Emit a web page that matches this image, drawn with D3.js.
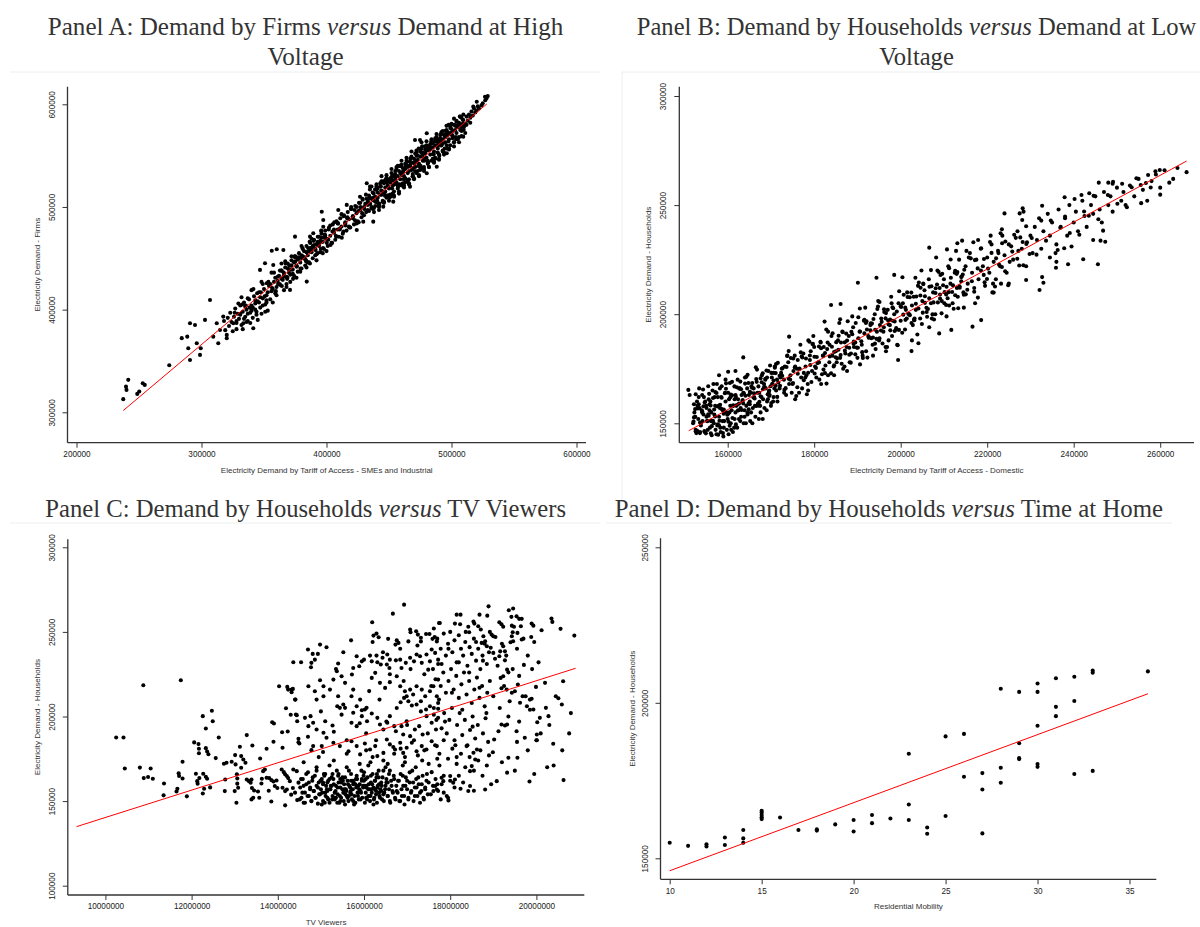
<!DOCTYPE html>
<html><head><meta charset="utf-8">
<script src="https://cdn.jsdelivr.net/npm/d3@7"></script>
<style>body{margin:0;background:#fff}svg{display:block}</style>
</head><body>
<svg id="chart" width="1200" height="927"></svg>
<script>
// ---------------- DATA (values in thousands unless stated) ----------------
// Panel A: x = demand at high voltage (thousand), y = demand by firms (thousand)
const ticksAX=[200,300,400,500,600];
const ticksAY=[300,400,500,600];
const fitA=[[237.4,301.7],[528.2,600.3]];
const firmsA=[
[237.4,312.8],[241.4,331.6],[239.6,325],[240,321.8],[248.6,317.9],[250.2,320.2],[253,328.3],[254.6,326.7],[274.2,345.9],[284.2,372.2],[288.6,373.7],[290.8,386.8],[294.8,385.1],[296.2,367.3],[299.4,362.4],[298.8,355.9],[290.8,351],[289.4,362.4],[302.8,390],[306.8,409.4],[309.4,373.7],[313.4,367.3],[312.2,386.8],[314.8,380.2],[320.2,375.4],[317.4,393.2],[346.8,438.7],[350.8,445.2],[357.4,443.5],[352.2,425.7],[356.2,457.4],[360.2,458.8],[365.5,458.1],[374.8,471.1],[386.8,471.1],[389.4,474.4],[396.2,495.4],[397.4,487.3],[397.4,480.8],[409.4,497],[416.2,502],[426.8,510],[432.2,523.1],[434.8,519.8],[470.8,565.2],[474.8,565.2],[480.2,571.8],[506.8,588],[509.4,584.7],[517.4,597.7],[520.2,602.5],[526.8,607.4],[341.4,381.9],[333.4,386.8],[325.4,386.8],[320.2,372.2],[370.8,419.2],[384.2,427.3],[424.2,477.6],[429.4,485.7],[437.4,485.7],[445.4,500.3],[453.4,505.2],[466.8,519.8],[480.2,532.8],[488.2,539.2],[496.2,552.3],[509.4,568.5],
[318,389],[319,380],[321,392],[322,384],[323,397],[324,388],[325,379],[326,393],[327,401],[328,387],[329,396],[330,391],[331,404],[332,385],[333,398],[334,407],[335,393],[336,400],[337,389],[338,410],[339,397],[340,404],[341,392],[342,413],[343,400],[344,395],[345,408],[346,417],[347,402],[348,396],[349,411],[350,420],[351,405],[352,414],[353,399],[354,423],[355,410],[356,418],[357,407],[358,427],[359,416],[360,422],[331,395],[335,403],[339,387],[343,406],[347,412],[351,398],[355,425],[359,431],[333,381],[337,396],[341,402],[345,390],[349,404],[353,417],[357,420],[361,428],
[362,433],[363,424],[364,438],[365,429],[366,419],[367,441],[368,432],[369,445],[370,436],[371,427],[372,448],[373,439],[374,433],[375,452],[376,443],[377,437],[378,455],[379,446],[380,440],[381,459],[382,450],[383,443],[384,462],[385,453],[386,446],[387,465],[388,457],[389,450],[390,468],[391,459],[392,454],[393,471],[394,462],[395,456],[396,474],[397,466],[398,459],[399,477],[400,469],[401,462],[402,480],[403,472],[404,465],[405,483],[406,475],[407,468],[408,486],[409,478],[410,471],[411,489],[412,481],[413,474],[414,492],[415,484],[416,477],[417,495],[418,488],[419,480],[420,498],[421,491],[422,483],[423,501],[424,494],[425,486],[426,504],[427,497],[428,490],[429,507],[430,500],
[366,435],[369,440],[372,443],[375,447],[378,450],[381,452],[384,456],[387,460],[390,463],[393,466],[396,470],[399,472],[368,425],[371,434],[374,446],[377,449],[380,453],[383,449],[386,457],[389,462],[392,464],[395,467],[398,470],[364,430],
[431,503],[432,508],[433,497],[434,511],[435,503],[436,499],[437,514],[438,506],[439,501],[440,517],[441,509],[442,503],[443,520],[444,512],[445,506],[446,523],[447,515],[448,509],[449,526],[450,518],[451,512],[452,529],[453,521],[454,515],[455,532],[456,524],[457,518],[458,535],[459,527],[460,521],[461,538],[462,530],[463,524],[464,541],[465,533],[466,527],[467,544],[468,536],[469,530],[470,547],[471,539],[472,533],[473,550],[474,542],[475,536],[476,553],[477,545],[478,539],[479,556],[480,548],[481,542],[482,559],[483,551],[484,545],[485,562],[486,554],[487,548],[488,565],[489,557],[490,551],[491,567],[492,560],[493,554],[494,570],[495,563],[496,557],[497,573],[498,566],[499,560],[500,576],[501,569],[502,563],[503,579],[504,572],[505,566],[506,582],[507,575],[508,569],[509,585],[510,578],[511,572],[512,588],
[433,505],[435,509],[437,507],[439,510],[441,514],[443,512],[445,515],[447,519],[449,521],[451,524],[453,526],[455,527],[457,530],[459,533],[461,534],[463,537],[465,539],[467,540],[469,543],[471,545],[473,546],[475,549],[477,551],[479,552],[481,555],[483,557],[485,558],[487,560],[489,563],[491,564],[493,566],[495,568],[497,570],[499,572],[501,574],[503,575],[505,578],[507,580],[509,581],
[434,496],[438,499],[442,500],[446,505],[450,509],[454,510],[458,515],[462,519],[466,522],[470,527],[474,531],[478,535],[482,539],[486,543],[490,547],[494,551],[498,556],[502,559],[506,563],[440,520],[444,525],[448,528],[452,533],[456,537],[460,541],[464,545],[468,549],[472,553],[476,557],[480,560],[484,564],[488,568],[492,572],[496,575],[500,580],[504,583],[508,587],
[513,584],[514,590],[515,587],[516,593],[517,589],[518,596],[519,592],[520,594],[521,598],[522,596],[524,599],[525,601],[527,604],[528,606],[529,608],[512,580],[515,582]
];
const firmsA2=[
[326.5,397],[328,389],[329.5,406],[331,396],[332.5,405],[334,391],[335.5,404],[337,411],[338.5,402],[340,399],[341.5,420],[343,409],[344.5,416],[346,407],[347.5,417],[349,425],[350.5,413],[352,409],[353.5,427],[355,423],[356.5,421],[358,436],[359.5,418],[361,432],[362.5,425],[364,438],[365.5,432],[367,447],[368.5,430],[370,439],[371.5,443],[373,435],[374.5,452],[376,442],[377.5,451],[379,437],[380.5,450],[382,457],[383.5,448],[385,446],[386.5,466],[388,456],[389.5,462],[391,453],[392.5,463],[394,471],[395.5,459],[397,455],[398.5,473],[400,469],[401.5,468],[403,482],[404.5,465],[406,478],[407.5,472],[409,484],[410.5,478],[412,493],[413.5,476],[415,485],[416.5,489],[418,481],[419.5,498],[421,489],[422.5,497],[424,484],[425.5,496],[427,504],[428.5,494],[430,492],[431.5,512],[433,502],[434.5,508],[436,499],[437.5,509],[439,517],[440.5,506],[442,501],[443.5,520],[445,515],[446.5,514],[448,528],[449.5,511],[451,524],[452.5,518],[454,530],[455.5,524],[457,540],[458.5,522],[460,532],[461.5,535],[463,528],[464.5,544],[466,535],[467.5,543],[469,530],[470.5,542],[472,550],[473.5,540],[475,538],[476.5,559],[478,548],[479.5,555],[481,545],[482.5,556],[484,563],[485.5,552],[487,547],[488.5,566],[490,561],[491.5,560],[493,574],[494.5,557],[496,571],[497.5,564],[499,577],[500.5,570],[502,586],[503.5,568],[505,578],[506.5,581],[508,574],[509.5,590],[511,581],
[361.25,425],[362.75,438],[364.25,423],[365.75,436],[367.25,445],[368.75,431],[370.25,443],[371.75,439],[373.25,430],[374.75,451],[376.25,442],[377.75,450],[379.25,440],[380.75,460],[382.25,451],[383.75,447],[385.25,460],[386.75,445],[388.25,460],[389.75,467],[391.25,458],[392.75,455],[394.25,464],[395.75,477],[397.25,460],[398.75,473],[400.25,465],[401.75,478],[403.25,463],[404.75,476],[406.25,485],[407.75,471],[409.25,484],[410.75,479],[412.25,470],[413.75,491],[415.25,482],[416.75,490],[418.25,480],[419.75,500],[421.25,491],[422.75,487],[424.25,500],[425.75,485],[427.25,500],[428.75,508],[430.25,498],[431.75,495],[433.25,504],[434.75,517],[436.25,500],[437.75,513],[439.25,505],[440.75,518],[442.25,503],[443.75,516],[445.25,525],[446.75,511],[448.25,524],[449.75,519],[451.25,510],[452.75,531],[454.25,522],[455.75,530],[457.25,520],[458.75,540],[460.25,531],[461.75,527],[463.25,540],[464.75,525],[466.25,540],[467.75,548],[469.25,538],[470.75,535],[472.25,544],[473.75,557],[475.25,540],[476.75,553],[478.25,545],[479.75,558],[481.25,543],[482.75,556],[484.25,565],[485.75,551],[487.25,564],[488.75,559],[490.25,550],[491.75,571],[493.25,562],[494.75,570],[496.25,560],[497.75,580],[499.25,571],[500.75,567],[502.25,580],[503.75,566],[505.25,580],[506.75,588],[508.25,578],[509.75,575]
];
const firmsA3=[
[436,520],[438,495],[440,522],[442,497],[444,530],[446,504],[448,531],[450,506],[452,537],[454,511],[456,539],[458,513],[460,545],[462,521],[464,548],[466,523],[468,554],[470,528],[472,555],[474,530],[476,563],[478,537],[480,564],[482,539],[484,566],[486,544],[488,571],[490,546],[492,573],[494,553],[496,579],[498,557],[500,581],[502,563],[504,584],[506,568],
[437,498],[439,517],[441,504],[443,523],[445,505],[447,526],[449,511],[451,528],[453,513],[455,535],[457,521],[459,540],[461,523],[463,542],[465,526],[467,547],[469,532],[471,552],[473,535],[475,554],[477,538],[479,559],[481,544],[483,561],[485,547],[487,567],[489,553],[491,570],[493,555],[495,574],
[328,381],[332,412],[336,388],[340,419],[344,398],[348,427],[352,407],[356,436],[360,414],[364,445],[368,422],[372,452],[376,431],[380,462],[384,441],[388,469],[392,448],[396,476],[400,457]
];

// Panel B: x = demand at low voltage (thousand), y = demand by households (thousand)
const ticksBX=[160,180,200,220,240,260];
const ticksBY=[150,200,250,300];
const fitB=[[151,146.6],[266.1,270.2]];
const householdsB=[
[152,150],[152.3,155],[152.6,147],[152.9,160],[153.2,152],[153.5,157],[153.8,149],[154.1,163],[154.4,154],[154.7,146],[155,158],[155.3,151],[155.6,161],[155.9,148],[156.2,155],[156.5,165],[156.8,150],[157.1,158],[157.4,145],[157.7,162],[158,153],[158.3,148],[158.6,167],[158.9,156],[159.2,151],[159.5,160],[159.8,147],[160.1,164],[160.4,155],[160.7,150],[161,169],[161.3,158],[161.6,152],[161.9,162],[162.2,148],[162.5,156],[162.8,166],[163.1,153],[163.4,160],[163.7,150],[164,171],[164.3,158],[164.6,154],[164.9,163],[165.2,151],[165.5,167],[165.8,157],[166.1,162],[166.4,153],[166.7,169],[167,159],[167.3,164],[167.6,155],[167.9,172],[168.2,161],[168.5,157],[168.8,166],[169.1,160],[169.4,174],[169.7,163],[170,158],[170.3,168],[170.6,162],[170.9,176],[171.2,165],[171.5,160],
[152.5,153],[153,158],[153.6,146],[154.2,151],[154.8,160],[155.4,147],[155.8,156],[156.4,151],[157,162],[157.6,149],[158.2,157],[158.8,151],[159.4,164],[160,152],[160.6,158],[161.2,146],[161.8,155],[162.4,161],[163,157],[163.6,164],[164.2,150],[164.8,159],[165.4,155],[166,166],[166.6,158],[167.2,152],[167.8,162],[168.4,168],[169,156],[169.6,165],[170.2,171],[170.8,166],[171.4,170],
[153.3,162],[154,156],[155.1,153],[156,160],[156.9,154],[157.9,158],[158.5,162],[159.1,148],[159.7,155],[160.3,161],[160.9,156],[161.5,148],[162,158],[162.6,152],[163.2,163],[163.9,156],[164.5,166],[165.1,160],[165.7,150],[166.3,158],[166.9,164],[167.5,158],[168.1,152],[168.7,170],[169.3,161],[169.9,167],[170.5,160],[171.1,173],[157.2,147],[158.4,146],[160.2,145],[159,144],
[150.9,165.3],[151.2,163],[152.6,163.3],[152.2,158.7],[156.1,145.4],[163.6,180.2],[160.1,173.6],[155.5,167],[157.5,168],[158,172],[161.8,174],[159.5,170],
[172,166],[172.5,175],[173,170],[173.5,163],[174,178],[174.5,172],[175,168],[175.5,181],[176,175],[176.5,164],[177,171],[177.5,182],[178,176],[178.5,168],[179,179],[179.5,174],[180,185],[180.5,171],[181,178],[181.5,187],[182,181],[182.5,173],[183,184],[183.5,178],[184,190],[184.5,176],[185,183],[185.5,188],[186,180],[186.5,192],[187,176],[187.5,185],[188,190],[188.5,182],[189,194],[189.5,187],[190,180],[190.5,192],[191,186],[191.5,197],[192,183],[192.5,190],[193,195],[193.5,186],[194,200],[194.5,192],[195,188],[195.5,198],[196,192],[196.5,185],[197,202],[197.5,195],[198,190],[198.5,200],[199,193],[199.5,205],[200,197],
[172.2,171],[173.2,176],[174.2,168],[175.2,174],[176.2,179],[177.2,166],[178.2,172],[179.2,183],[180.2,176],[181.2,170],[182.2,185],[183.2,172],[184.2,181],[185.2,178],[186.2,187],[187.2,182],[188.2,178],[189.2,185],[190.2,189],[191.2,181],[192.2,193],[193.2,189],[194.2,184],[195.2,195],[196.2,201],[197.2,188],[198.2,197],[199.2,186],[173.8,181],[176.8,186],[179.8,190],[182.8,193],[185.8,196],[188.8,199],[191.8,203],[194.8,206],[197.8,208],[175.6,161],[178.6,165],[181.6,168],[184.6,172],[187.6,174],[190.6,177],[193.6,181],[196.6,183],
[174.2,189.7],[178.9,187.4],[182.4,196.6],[183.9,204.2],[186.1,204.7],[190.1,214.4],[194.4,216.7],[198.5,218],[199.4,179],
[200.5,205],[201,193],[201.5,210],[202,200],[202.5,196],[203,208],[203.5,202],[204,213],[204.5,198],[205,206],[205.5,211],[206,201],[206.5,216],[207,205],[207.5,210],[208,200],[208.5,220],[209,212],[209.5,206],[210,216],[210.5,209],[211,222],[211.5,214],[212,205],[212.5,219],[213,212],[213.5,225],[214,217],[214.5,210],[215,222],[215.5,214],[216,228],[216.5,219],[217,212],[217.5,225],[218,216],[218.5,230],[219,222],[219.5,213],[220,226],[220.5,219],[221,232],[221.5,224],[222,216],[222.5,229],[223,222],[223.5,236],[224,227],[224.5,219],[225,232],[226,225],[227,238],[228,230],[229,222],[230,236],
[201.2,202],[203.2,198],[205.2,214],[207.2,198],[209.2,218],[211.2,204],[213.2,208],[215.2,229],[217.2,205],[219.2,218],[221.2,210],[223.2,214],[225.2,224],[227.2,229],[229.2,233],[204.8,220],[208.2,226],[212.8,229],[216.8,233],[220.8,236],[202.6,188],[206.6,194],[210.6,199],[214.6,203],
[200.4,216.9],[203.4,216.7],[206.6,230.5],[210.7,229.7],[213.1,232.5],[214.2,233.7],[217.9,234],[223.1,237.1],[223.4,238.9],[202.5,183.1],[204.1,186.7],[208.9,191.2],[211.7,192.8],[216.6,194.3],[218.6,197.3],[221.5,209.9],[224,246.2],[227.5,246.2],[228.1,243.2],[228.2,248.5],[228.4,247],
[230.5,228],[231,240],[231.5,234],[232,244],[232.5,230],[233,238],[234,246],[234.5,236],[235,242],[236,232],[236.5,248],[237,240],[238,244],[238.5,236],[239,250],[240,242],[240.5,247],[241,238],[242,252],[242.5,245],[243,240],[244,250],[244.5,246],[245,254],[246,248],[246.5,242],[247,256],[248,250],[248.5,254],[249,247],[250,258],[251,252],[251.5,256],[252,250],[253,259],[254,254],[255,262],[256,257],[257,252],[258,261],[259,264],[260,258],[261,266],[263,262],[264,267],
[232.7,249.7],[237.9,253.6],[241.8,254.6],[243.6,255.4],[245.8,260.3],[248,260.3],[249.1,260.7],[255.5,259.2],[257.2,263.8],[259.9,266.1],[262.1,260.3],[266.1,265.1],[229,215.7],[232.1,211.1],[233,214.4],[235.9,221.3],[238.7,222.9],[242.2,225.2],[245.6,222.9],[244.5,234],[246.2,233.7],[247.3,233.2],[236.3,229.4],[237.8,230.2],[232.7,217],[234.5,226],[236,224],[239.5,231]
];
const householdsB2=[
[152.2,152.7],[152.75,145.5],[153.3,158.7],[153.85,150.2],[154.4,157.8],[154.95,145.4],[155.5,154.1],[156.05,158.2],[156.6,151.1],[157.15,164.3],[157.7,149.5],[158.25,158.5],[158.8,156.2],[159.35,163.8],[159.9,153.9],[160.45,148.9],[161,162.8],[161.55,166.9],[162.1,158.4],[162.65,166],[163.2,156.1],[163.75,163.7],[164.3,171.3],[164.85,156.4],[165.4,164],[165.95,161.8],[166.5,175.7],[167.05,158.1],[167.6,170.6],[168.15,165.6],[168.7,170.4],[169.25,163.3],[169.8,176.5],[170.35,168],[170.9,175.5],[171.45,162.1],[172,171.8],
[152.47,156.5],[153.02,146.5],[153.57,145.5],[154.12,155.4],[154.67,159.5],[155.22,151],[155.77,158.6],[156.32,148.7],[156.87,156.3],[157.42,163.9],[157.97,149.1],[158.52,156.7],[159.07,154.4],[159.62,168.3],[160.17,150.7],[160.72,163.2],[161.27,158.2],[161.82,163],[162.37,155.9],[162.92,169.1],[163.47,160.6],[164.02,168.2],[164.57,154.8],[165.12,164.4],[165.67,168.5],[166.22,161.4],[166.77,174.6],[167.32,159.8],[167.87,168.8],[168.42,166.6],[168.97,174.2],[169.52,164.3],[170.07,159.3],[170.62,173.1],[171.17,177.2],[171.72,168.7],
[172.35,173.1],[173.05,164],[173.75,180.9],[174.45,170],[175.15,179.7],[175.85,162.5],[176.55,174.9],[177.25,180.2],[177.95,171],[178.65,188],[179.35,168.9],[180.05,180.5],[180.75,177.6],[181.45,187.4],[182.15,174.6],[182.85,168.2],[183.55,186],[184.25,191.3],[184.95,180.3],[185.65,190.1],[186.35,177.3],[187.05,187.1],[187.75,196.8],[188.45,177.8],[189.15,187.5],[189.85,184.7],[190.55,202.6],[191.25,179.9],[191.95,196],[192.65,189.5],[193.35,195.7],[194.05,186.5],[194.75,203.5],[195.45,192.5],[196.15,202.3],[196.85,185],[197.55,197.5],[198.25,202.7],[198.95,193.6],[199.65,210.5],[200.35,191.5],[201.05,203],[201.75,200.2],[202.45,209.9],[203.15,197.2],[203.85,190.7],[204.55,208.6],[205.25,213.8],[205.95,202.9],[206.65,212.6],[207.35,199.9],[208.05,209.7],[208.75,219.4],[209.45,200.4],[210.15,210.1],[210.85,207.3],[211.55,225.1],[212.25,202.5],[212.95,218.5],[213.65,212.1],[214.35,218.2],[215.05,209.1],[215.75,226],[216.45,215.1],[217.15,224.8],[217.85,207.6],[218.55,220],[219.25,225.3],[219.95,216.1],[220.65,233.1],[221.35,214],[222.05,225.6],[222.75,222.7],[223.45,232.5],[224.15,219.7],[224.85,213.3],[225.55,231.1],[226.25,236.4],[226.95,225.4],[227.65,235.2],[228.35,222.4],[229.05,232.2],
[172.7,175.3],[173.4,166.1],[174.1,183.1],[174.8,164],[175.5,175.6],[176.2,172.7],[176.9,182.5],[177.6,169.7],[178.3,163.3],[179,181.1],[179.7,186.4],[180.4,175.4],[181.1,185.2],[181.8,172.5],[182.5,182.2],[183.2,192],[183.9,172.9],[184.6,182.7],[185.3,179.8],[186,197.7],[186.7,175],[187.4,191.1],[188.1,184.6],[188.8,190.8],[189.5,181.6],[190.2,198.6],[190.9,187.6],[191.6,197.4],[192.3,180.1],[193,192.6],[193.7,197.8],[194.4,188.7],[195.1,205.6],[195.8,186.6],[196.5,198.1],[197.2,195.3],[197.9,205],[198.6,192.3],[199.3,185.8],[200,203.7],[200.7,208.9],[201.4,198],[202.1,207.8],[202.8,195],[203.5,204.8],[204.2,214.5],[204.9,195.5],[205.6,205.2],[206.3,202.4],[207,220.2],[207.7,197.6],[208.4,213.6],[209.1,207.2],[209.8,213.3],[210.5,204.2],[211.2,221.1],[211.9,210.2],[212.6,219.9],[213.3,202.7],[214,215.1],[214.7,220.4],
[215.4,211.2],[216.2,225.6],[217,210.3],[217.8,221],[218.6,230.2],[219.4,214.6],[220.2,220.9],[221,228.1],[221.8,212.7],[222.6,228],[223.4,221.6],[224.2,233.3],[225,214.1],[225.8,228.7],[226.6,235],[227.4,222.3],[228.2,233.1],[229,240.3],[229.8,227.6],
[230.3,234.9],[231.4,227.3],[232.5,242.9],[233.6,233.7],[234.7,242.9],[235.8,228],[236.9,239.6],[238,244.8],[239.1,237.2],[240.2,252.8],[241.3,236.4],[242.4,247.1],[243.5,245.1],[244.6,254.3],[245.7,243.5],[246.8,238.3],[247.9,254.6],[249,259.8],[250.1,250.6],[251.2,259.8],[252.3,249],[253.4,258.2],[254.5,262.3],[255.6,250.9],[256.7,260.1],[257.8,258.1],[258.9,265.5],[260,254.8]
];
const householdsB3=[
[152.1,150.8],[152.6,146.3],[153.1,156.8],[153.6,150.4],[154.1,154.9],[154.6,146.4],[155.1,157],[155.6,153.5],[156.1,151.1],[156.6,161.6],[157.1,153.1],[157.6,157.7],[158.1,151.2],[158.6,161.7],[159.1,156.3],[159.6,165.8],[160.1,154.4],[160.6,161.9],[161.1,152.4],[161.6,161],[162.1,166.5],[162.6,159],[163.1,165.6],[163.6,159.1],[164.1,162.6],[164.6,172.2],[165.1,158.7],[165.6,166.3],[166.1,163.8],[166.6,170.3],[167.1,166.9],[167.6,162.4],[168.1,172.9],[168.6,166.5],[169.1,171],[169.6,162.5],[170.1,173.1],[170.6,169.6],[171.1,167.2],[171.6,177.7],
[172.1,167.2],[172.6,171.8],[173.1,165.3],[173.6,175.8],[174.1,170.4],[174.6,179.9],[175.1,168.5],[175.6,176],[176.1,166.5],[176.6,175.1],[177.1,180.6],[177.6,173.1],[178.1,179.7],[178.6,173.2],[179.1,176.7],[179.6,186.3],[180.1,172.8],[180.6,180.4],[181.1,177.9],[181.6,184.4],[182.1,181],[182.6,176.5],[183.1,187],[183.6,180.6],[184.1,185.1],[184.6,176.6],[185.1,187.2],[185.6,183.7],[186.1,181.3],[186.6,191.8],[187.1,183.3],[187.6,187.9],[188.1,181.4],[188.6,191.9],[189.1,186.5],[189.6,196],[190.1,184.6],[190.6,192.1],[191.1,182.6],[191.6,191.2],[192.1,196.7],[192.6,189.2],[193.1,195.8],[193.6,189.3],[194.1,192.9],[194.6,202.4],[195.1,188.9],[195.6,196.5],[196.1,194],[196.6,200.5],[197.1,197.1],[197.6,192.6],[198.1,203.2],[198.6,196.7],[199.1,201.2],[199.6,192.8],[200.1,203.3],[200.6,199.8],[201.1,197.4],[201.6,207.9],[202.1,199.5],[202.6,204],[203.1,197.5],[203.6,208.1],[204.1,202.6],[204.6,212.1],[205.1,200.7],[205.6,208.2],[206.1,198.8],[206.6,207.3],[207.1,212.8],[207.6,205.4],[208.1,211.9],[208.6,205.4],[209.1,209],[209.6,218.5],[210.1,205],[210.6,212.6],[211.1,210.1],[211.6,216.7],[212.1,213.2],[212.6,208.7],[213.1,219.3],[213.6,212.8],[214.1,217.3],[214.6,208.9],
[153.4,166],[154.5,162],[155.7,163.5],[156.3,144.5],[157.8,144.8],[158.9,145.5],[160.8,147],[161.9,149.5],[162.9,151],[163.9,153],[164.8,168.5],[162.3,170],[160.5,168.5],[158.2,166],[156.7,168],[154.3,165.5]
];

// Panel C: x = TV viewers (millions), y = demand by households (thousand)
const ticksCX=[10,12,14,16,18,20];
const ticksCY=[100,150,200,250,300];
const fitC=[[9.33,134.9],[20.91,228.5]];
const householdsC=[
[10.25,187.6],[10.42,187.6],[10.88,218.5],[11.75,221.4],[10.45,169.3],[10.8,169.8],[11.05,169.3],[10.89,163.6],[10.99,164.2],[11.1,163.2],[11.36,160.4],[11.35,153.4],[11.67,157.3],[11.65,155.7],[11.7,166.4],[11.71,164.8],[11.79,163.4],[11.79,173.3],[11.89,152.8],[12.06,184.7],[12.16,183.7],[12.17,180.9],[12.17,178.3],[12.26,200.2],[12.47,203.4],[12.49,197.2],[12.33,192.9],[12.33,181.3],[12.36,179.3],[12.39,177.7],[12.1,166.2],[12.13,161.8],[12.14,160.3],[12.18,163.6],[12.27,166.2],[12.33,164.4],[12.36,163.2],[12.29,157.3],[12.26,154.5],[12.43,158.1],[12.56,175.4],[12.63,187.6],[12.75,172.1],[12.81,172.7],[12.78,162.8],[12.77,155.9],[12.93,173.3],[13.01,177.2],[13.02,171.7],[13.12,182.1],[13.15,176.6],[13.2,174.6],[13.25,172.7],[13.15,169.7],[13.28,189],[13.41,182.9],[13.05,165.8],[13.06,163.4],[13.06,160.3],[13.08,157.9],[13,155.9],[13.04,149],[13.28,162.8],[13.33,161.8],[13.39,162.8],[13.37,160.9],[13.4,157.7],[13.45,156.3],[13.54,155.7],[13.39,151],[13.43,152],[13.57,152],[13.59,175.2],[13.63,163.2],[13.66,167.7],[13.7,168.7],[13.74,163.8],[13.62,160.4],[13.74,180.9],[13.79,156.1],[13.85,149.8],[13.87,196.6],[13.91,195.9],[13.9,185.1],[13.8,163.6],[13.85,162.4],[13.9,161.6],[13.97,162.2],[13.93,158.9],[13.99,157.7],[14.03,217.9],[14.1,190.7],[14.11,181.5],[14.09,168.7],[14.14,167.1],[14.17,165.8],[14.21,164.8],[14.24,163.6],[14.28,161.8],[14.11,157.9],[14.17,155.9],[14.21,156.9],[14.17,147.5],[14.22,217.5],[14.24,215.9],[14.35,216.3],[14.32,214.3],[14.19,204.9],[14.3,201],[14.23,191.1],[14.41,210],[14.36,232.1],[14.44,200.8],[14.45,197.2],[14.48,186.8],[14.48,184.8],[14.36,168.7],[14.44,167.7],[14.48,160.9],[14.4,155],[14.45,150.6],[14.31,153.8],[14.35,157.7],
[16.93,266.1],[16.67,260.8],[16.19,255.7],[17.74,255.3],[16.29,249],[16.22,247.8],[16.34,246.8],[16.56,245.9],[16.76,245],[16.8,243.5],[16.73,242.5],[17.07,251.4],[17.08,249.8],[17.21,250.4],[17.25,248.4],[17.32,246.5],[17.32,244.4],[17.03,244.4],[17.44,248.8],[17.52,248.8],[17.59,245.9],[17.69,244.4],[15.52,238],[14.7,239.6],[14.81,237],[14.93,237],[14.98,242.5],[15.13,240.9],[14.54,232.1],[14.77,229.1],[14.86,233.6],[14.78,231.7],[15.4,231.3],[15.37,226.7],[15.83,235.6],[15.95,232.6],[16,233.6],[15.89,229.7],[15.75,228.7],[15.72,224.8],[16.14,236],[16.18,232.6],[16.29,236],[16.31,232.1],[16.43,234.7],[16.39,230.7],[16.54,236.6],[16.6,233.6],[16.59,228.7],[16.53,230.7],[16.74,233.2],[16.84,233.6],[16.87,228.7],[16.97,231.7],[17.07,234.7],[17.16,232.6],[17.22,236.6],[17.3,235.6],[17.34,231.7],[17.45,236.6],[17.53,232.6],[17.57,239.6],[17.65,237.6],[17.72,233.6],[17.49,227.7],[14.32,215.9],[14.4,210],[14.71,217.9],[14.98,221.4],[15.06,217.9],[15.29,221.8],[15.21,215.9],[15.48,223.8],[15.56,219.9],[14.86,214.9],[14.9,210],[15.06,212],[15.4,212],[15.52,207.1],[15.44,205.1],[15.56,205.1],[15.71,212],[15.75,215.9],[15.83,206.1],[15.91,210],[15.95,203.7],[16.06,205.1],[16.18,222.8],[16.26,225.8],[16.37,219.9],[16.49,216.9],[16.6,220.3],[16.76,223.8],[16.84,217.9],[16.95,214.9],[16.99,212],[17.07,215.9],[17.14,213],[17.22,217.9],[17.34,215.9],[17.42,212],[17.53,214.9],[17.61,217.9],[17.69,212],[17.72,221.8],[16.85,208.4],[16.93,211],[17.03,209],[17.11,206.5],[17.22,207.1],[17.32,209],[17.44,204.1],[17.53,206.1],[17.62,201.1],[17.72,204.6],
[14.42,201.2],[14.63,199.2],[14.76,200.2],[14.71,194.3],[14.82,196.3],[14.9,192.3],[15.06,190.4],[15.1,197.2],[15.27,194.7],[15.38,206.1],[15.48,201.1],[15.71,196.3],[15.83,194.3],[15.75,202.2],[15.95,200.2],[16.02,204.1],[16.07,197.2],[16.18,201.8],[16.31,199.2],[16.37,195.3],[16.45,192.3],[16.54,196.3],[16.6,200.2],[16.7,194.3],[16.74,191.3],[16.87,194.3],[16.91,189.4],[16.99,197.2],[17.07,188.4],[17.18,192.3],[17.28,194.3],[17.36,189.4],[17.45,200.2],[17.57,196.3],[17.67,192.3],[17.72,199.2],
[14.5,184],[14.82,182.5],[14.78,180.1],[15.02,182.5],[15.13,187.4],[15.29,184.5],[15.44,182.5],[15.64,179.5],[15.71,185.4],[15.83,182.5],[15.91,177.6],[16.02,184],[16.14,180.5],[16.26,182.5],[16.31,176.6],[16.45,178.5],[16.53,186.4],[16.6,183.5],[16.72,180.5],[16.84,184.5],[16.91,178.5],[16.99,181.5],[17.11,184.5],[17.22,179.5],[17.34,182.5],[17.45,180.5],[17.57,185.4],[17.69,182.5],
[14.52,158],[14.55,152],[14.58,163],[14.6,149],[14.63,155],[14.66,160],[14.7,167],[14.72,153],[14.75,158],[14.78,150],[14.8,162],[14.83,156],[14.86,165],[14.88,152],[14.9,159],[14.93,148.5],[14.95,161],[14.98,154],[15,157],[15.02,163],[15.05,150],[15.07,166],[15.1,155],[15.12,159],[15.15,152],[15.17,162],[15.2,149],[15.22,157],[15.25,164],[15.27,153],[15.3,160],[15.32,151],[15.34,156],[15.37,168],[15.39,154],[15.41,161],[15.43,149],[15.45,158],[15.47,152],[15.5,164],[15.52,155],[15.54,160],[15.56,148],[15.58,157],[15.6,153],[15.62,162],[15.64,150],[15.66,159],[15.68,155],[15.7,166],[15.72,151],[15.74,157],[15.76,161],[15.78,153],[15.8,149],[15.82,158],[15.84,163],[15.86,155],[15.88,151],[15.9,160],[15.92,156],[15.94,168],[15.96,152],[15.98,158],[16,162],[16.02,149],[16.04,155],[16.06,159],[16.08,164],[16.1,153],[16.12,157],[16.14,150],[16.16,161],[16.18,155],[16.2,166],[16.22,158],[16.24,152],[16.26,162],[16.28,156],[16.3,149],[16.32,159],[16.34,164],[16.36,153],[16.38,157],[16.4,161],[16.42,151],[16.45,168],[16.47,155],[16.5,159],[16.52,163],[16.55,153],[16.58,157],[16.6,150],[16.63,162],[16.66,156],[16.69,165],[16.72,152],[16.75,159],[16.78,155],[16.81,162],[16.84,150],[16.87,157],[16.9,165],[16.93,153],[16.96,159],[17,162],[17.03,151],[17.06,167],[17.1,156],[17.14,161],[17.18,153],[17.22,158],[17.26,164],[17.3,155],[17.34,160],[17.38,152],[17.42,157],[17.46,166],[17.5,161],[17.55,154],[17.6,159],[17.66,163],[17.72,156],[17.78,151],[17.8,160],[17.85,165],
[15.05,161],[15.15,156],[15.25,159],[15.35,152],[15.45,163],[15.55,157],[15.65,153],[15.75,160],[15.85,155],[15.95,162],[16.05,158],[16.15,153],[16.25,157],[16.35,160],[16.45,154],[16.55,161],[15.1,166],[15.4,165],[15.7,162],[16,167],[16.3,166],[16.6,168],[14.9,170],[15.2,171],[15.6,170],[16.1,171],[16.5,170],[16.9,171],[17.2,170],
[14.6,173],[14.95,176],[15.3,174],[15.6,178],[15.9,172],[16.2,176],[16.45,174],[16.7,178],[16.95,173],[17.25,177],[17.5,172],[17.7,175],[15.05,179],[16.05,180],[16.85,181],[17.4,180],
[18.89,265.1],[19.36,262.8],[19.46,263.8],[18.15,260.2],[18.24,260.2],[18.68,260.2],[18.86,259.6],[19.42,258.9],[19.54,259.2],[20.35,257.9],[20.37,255.9],[17.76,255.3],[18.11,254.9],[18.23,254.5],[18.54,256.1],[18.56,254.9],[18.65,253.3],[18.71,251.4],[18.42,253],[18.44,249.8],[19.14,255.7],[19.19,254.5],[19.23,253],[19.43,253.7],[19.48,253],[19.64,253.3],[19.6,257.7],[19.66,257.7],[19.89,254.9],[19.93,253.7],[19.88,247],[19.45,249.8],[19.56,249.4],[19.43,247.4],[19.66,245.5],[19.46,244.5],[19.4,243.9],[20.56,251.8],[20.88,247.8],[19.23,241.5],[19.27,238.5],[19.16,238.5],[19,237.6],[19.04,234.1],[18.94,240.6],[19.14,235.6],[18.77,247.4],[18.81,244.5],[18.73,243.5],[18.85,241.5],[18.96,248.4],[19,247.4],[19.71,230.5],[19.27,233.2],[19.32,227.7],[19.35,226.1],[19.23,223.8],[19.17,222.8],[19.57,218.9],[19.99,217.5],[20.2,219.9],[20.62,220.8],[19.19,216.7],[19.31,215.9],[19.43,214],[19.5,214.9],[19.62,208.1],[19.68,212],[19.78,206.1],[19.85,210],[19.89,210.5],[20.51,210.8],[20.59,207.1],[19.93,204.1],[20.08,199.2],[20.02,196.6],[20.22,205.1],[20.28,200.2],[19.19,195.3],[19.27,194.7],[19.32,195.3],[19.54,191.3],[19.73,187.4],[20.01,189.4],[20.01,186],[20.76,190],[20.39,183.9],[19.02,186.4],[18.99,178.9],[19.12,191.3],[19.35,175.6],[19.56,175.6],[19.32,166.8],[19.08,161.8],[19.84,161.6],[20.63,162.4],[18.81,156.9],[18.55,156.1],[18.46,158.9],[18.24,157.3],[17.92,153],[17.96,150.4],[18.07,160.9],[18.11,162.8],[17.84,161.8],[17.8,163.8],[18,164.8],[17.57,167.1],[17.65,158.9],[17.69,156.9],[17.61,155.9],[18.46,167.7],[18.5,170.7],[18.58,174.6],[18.62,180.5],[18.54,178.6],[18.38,182.5],
[17.62,252],[17.7,246],[17.78,240],[17.85,249],[17.9,236],[17.95,243],[18,250],[18.05,238],[18.1,245],[18.15,232],[18.2,248],[18.25,240],[18.3,236],[18.35,244],[18.4,230],[18.45,241],[18.5,237],[18.55,246],[18.6,233],[18.65,240],[18.7,228],[18.75,236],[18.8,243],[18.85,231],[18.9,238],
[17.6,228],[17.66,222],[17.72,231],[17.78,218],[17.84,226],[17.9,214],[17.96,221],[18.02,228],[18.08,216],[18.14,224],[18.2,211],[18.26,219],[18.32,226],[18.38,213],[18.44,221],[18.5,208],[18.56,216],[18.62,223],[18.68,211],[18.74,218],[18.8,206],[18.86,214],[18.92,221],
[17.62,205],[17.68,198],[17.74,210],[17.8,193],[17.86,202],[17.92,190],[17.98,198],[18.04,205],[18.1,186],[18.16,195],[18.22,202],[18.28,189],[18.34,198],[18.4,183],[18.46,192],[18.52,200],[18.58,187],[18.64,195],[18.7,180],[18.76,190],[18.82,199],[18.88,185],
[17.65,183],[17.75,178],[17.85,186],[17.95,175],[18.05,181],[18.15,172],[18.25,178],[18.35,170],[18.45,176],[18.55,168],[18.65,174],[18.75,165],[18.85,171],[18.95,160],[18.9,177],[18,162],[18.1,158],[18.2,165],[18.3,161],[18.42,156],[17.7,160],[17.85,155],[17.95,152],
[19.05,247],[19.1,230],[19.2,243],[19.25,218],[19.3,236],[19.38,209],[19.45,228],[19.55,240],[19.6,224],[19.7,246],[19.75,212],[19.8,236],[19.9,228],[19.95,244],[20.05,232],[20.12,251],[19.15,205],[19.35,200],[19.6,197],[19.85,204],[20.1,190],[19,212],[19.55,185],[19.8,180],[20,186],[20.3,195],[20.45,212],[20.8,202],[20.6,180],[20.4,171],[20.25,170],[19.95,166],[19.5,168],[19.2,173]
];
const householdsC2=[
[14.51,151],[14.54,163],[14.57,155],[14.6,159],[14.63,149],[14.66,166],[14.69,153],[14.72,161],[14.75,157],[14.78,150],[14.81,164],[14.84,156],[14.87,152],[14.9,168],[14.93,158],[14.96,154],[14.99,162],[15.02,148],[15.05,160],[15.08,165],[15.11,153],[15.14,157],[15.17,151],[15.2,163],[15.23,159],
[15.26,151],[15.29,163],[15.32,155],[15.35,159],[15.38,149],[15.41,166],[15.44,153],[15.47,161],[15.5,157],[15.53,150],[15.56,164],[15.59,156],[15.62,152],[15.65,168],[15.68,158],[15.71,154],[15.74,162],[15.77,148],[15.8,160],[15.83,165],[15.86,153],[15.89,157],[15.92,151],[15.95,163],[15.98,159],
[16.01,159],[16.04,163],[16.07,151],[16.1,157],[16.13,153],[16.16,165],[16.19,160],[16.22,148],[16.25,162],[16.28,154],[16.31,158],[16.34,168],[16.37,152],[16.4,156],[16.43,164],[16.46,150],[16.49,157],[16.52,161],[16.55,153],[16.58,166],[16.61,149],[16.64,159],[16.67,155],[16.7,163],[16.73,151],
[16.76,156],[16.79,162],[16.82,150],[16.85,166],[16.88,153],[16.91,159],[16.94,148],[16.97,164],[17,157],[17.03,152],[17.06,161],[17.09,155],[17.12,168],[17.15,150],[17.18,158],[17.21,163],[17.24,153],[17.27,160],[17.3,149],[17.33,156],[17.36,165],[17.39,151],[17.42,158],[17.45,162],[17.48,154],
[15.03,155],[15.09,149],[15.15,161],[15.21,157],[15.27,166],[15.33,152],[15.39,158],[15.45,150],[15.51,162],[15.57,154],[15.63,160],[15.69,156],[15.75,150],[15.81,163],[15.87,159],[15.93,155],[15.99,165],[16.05,152],[16.11,160],[16.17,157],[16.23,151],[16.29,164],[16.35,155],[16.41,159],
[16.05,190],[16.12,215],[16.2,244],[16.28,186],[16.36,210],[16.44,238],[16.52,197],[16.6,225],[16.68,182],[16.76,205],[16.84,240],[16.92,221],[17,195],[17.08,228],[17.16,186],[17.24,242],[17.32,203],[17.4,225],[17.48,190],[17.56,218],[17.64,247],[17.72,208],[17.8,231],[17.88,197],[17.96,240],[18.04,214],[18.12,183],[18.2,232],[18.28,204],[18.36,250],[18.44,226],[18.52,194],[18.6,244],[18.68,217],[18.76,233],[18.84,202],[18.92,250],[16.15,173],[16.55,172],[16.95,176],[17.35,174],[17.75,171],[18.15,176],[15.6,186],[15.9,196],[15.3,191],[14.7,188],[15,203],[15.35,228],[15.7,245]
];

// Panel D: x = residential mobility (index), y = demand by households (thousand)
const ticksDX=[10,15,20,25,30,35];
const ticksDY=[150,200,250];
const fitD=[[10,146.0],[36,202.9]];
const householdsD=[
[10,155.0],[11,154.0],[12,154.5],[12,153.8],[13,156.7],[13,154.3],[14,159.1],[14,156.4],[14,155.0],[15,165.3],[15,164.7],[15,163.9],[15,163.2],[15,162.6],[16,163.1],[17,159.1],[18,159.3],[18,158.9],[19,160.9],[20,162.3],[20,158.6],[21,163.9],[21,161.3],[22,162.8],[23,183.6],[23,167.3],[23,162.3],[24,159.9],[24,157.9],[25,189.2],[25,163.6],[26,190.0],[26,176.2],[27,177.4],[27,172.1],[27,158.0],[28,204.5],[28,179.1],[28,174.3],[29,203.5],[29,187.0],[29,181.9],[29,182.2],[30,206.2],[30,203.5],[30,192.6],[30,180.3],[30,179.4],[31,207.9],[31,198.7],[31,195.7],[32,208.4],[32,200.6],[32,177.1],[33,210.4],[33,209.7],[33,178.1],[36,210.1]
];

// ---------------- LAYOUT ----------------
const panels=[
 {title:[["Panel A: Demand by Firms ",0],["versus",1],[" Demand at High",0]], title2:"Voltage",
  titleCx:305.5, titleW:515.7, titleY:[34.5,65],
  box:{l:67.5,t:86.7,r:586,b:442.7}, xRange:[76.5,576.5], yRange:[412.3,104.3],
  xT:ticksAX, yT:ticksAY, xMul:1000, yMul:1000, pts:firmsA.concat(firmsA2,firmsA3), fit:fitA,
  xTitle:"Electricity Demand by Tariff of Access - SMEs and Industrial", yTitle:"Electricity Demand - Firms", yTitleX:40},
 {title:[["Panel B: Demand by Households ",0],["versus",1],[" Demand at Low",0]], title2:"Voltage",
  titleCx:916.5, titleW:559.8, titleY:[34.5,65],
  box:{l:679.3,t:86.7,r:1194,b:442.7}, xRange:[727.7,1160.2], yRange:[423.3,96],
  xT:ticksBX, yT:ticksBY, xMul:1000, yMul:1000, pts:householdsB.concat(householdsB2,householdsB3), fit:fitB,
  xTitle:"Electricity Demand by Tariff of Access - Domestic", yTitle:"Electricity Demand - Households", yTitleX:651},
 {title:[["Panel C: Demand by Households ",0],["versus",1],[" TV Viewers",0]], title2:null,
  titleCx:305.7, titleW:521, titleY:[516.7],
  box:{l:67.8,t:539.3,r:584.3,b:895}, xRange:[105.4,536.4], yRange:[885.7,547.3],
  xT:ticksCX, yT:ticksCY, xMul:1e6, yMul:1000, pts:householdsC.concat(householdsC2), fit:fitC,
  xTitle:"TV Viewers", yTitle:"Electricity Demand - Households", yTitleX:40},
 {title:[["Panel D: Demand by Households ",0],["versus",1],[" Time at Home",0]], title2:null,
  titleCx:888.9, titleW:548.6, titleY:[516.7],
  box:{l:660.5,t:538.3,r:1156.3,b:879.3}, xRange:[669.7,1129.5], yRange:[858.3,547.3],
  xT:ticksDX, yT:ticksDY, xMul:1, yMul:1000, pts:householdsD, fit:fitD,
  xTitle:"Residential Mobility", yTitle:"Electricity Demand - Households", yTitleX:634.5}
];

const svg=d3.select("#chart");
svg.append("rect").attr("width",1200).attr("height",927).attr("fill","#fff");

const sepColor="#eceff0";
[[10,600,72,72],[622,1200,72,72],[622,622,72,500],[10,600,523,523],[606,1172,523,523]].forEach(s=>
  svg.append("line").attr("x1",s[0]).attr("x2",s[1]).attr("y1",s[2]).attr("y2",s[3]).attr("stroke",sepColor));

const serif="'Liberation Serif','Times New Roman',serif";
const sans="'Liberation Sans',Arial,Helvetica,sans-serif";
const fmt=d3.format("d");

panels.forEach(p=>{
  const g=svg.append("g");
  const t=g.append("text").attr("x",p.titleCx).attr("y",p.titleY[0]).attr("text-anchor","middle")
    .attr("font-family",serif).attr("font-size",20).attr("fill","#333");
  p.title.forEach(([s,it])=>t.append("tspan").text(s).attr("font-style",it?"italic":"normal"));
  const w=t.node().getComputedTextLength();
  const fs=20*p.titleW/w;
  t.attr("font-size",fs);
  if(p.title2){
    g.append("text").attr("x",p.titleCx).attr("y",p.titleY[1]).attr("text-anchor","middle")
      .attr("font-family",serif).attr("font-size",fs).attr("fill","#333").text(p.title2);
  }

  const x=d3.scaleLinear().domain([p.xT[0],p.xT[p.xT.length-1]]).range(p.xRange);
  const y=d3.scaleLinear().domain([p.yT[0],p.yT[p.yT.length-1]]).range(p.yRange);
  const b=p.box;

  const xa=g.append("g").attr("transform",`translate(0,${b.b})`)
    .call(d3.axisBottom(x).tickValues(p.xT).tickSize(5).tickPadding(3.5).tickFormat(v=>fmt(Math.round(v*p.xMul))));
  xa.select(".domain").remove();
  xa.selectAll("line").attr("stroke","#333").attr("stroke-width",1);
  xa.selectAll("text").attr("font-family",sans).attr("font-size",8.2).attr("fill","#222");
  g.append("line").attr("x1",b.l).attr("x2",b.r).attr("y1",b.b).attr("y2",b.b).attr("stroke","#333").attr("stroke-width",1.3);

  const ya=g.append("g").attr("transform",`translate(${b.l},0)`)
    .call(d3.axisLeft(y).tickValues(p.yT).tickSize(5).tickFormat(v=>fmt(Math.round(v*p.yMul))));
  ya.select(".domain").remove();
  ya.selectAll("line").attr("stroke","#333").attr("stroke-width",1);
  ya.selectAll("text").attr("font-family",sans).attr("font-size",8.2).attr("fill","#222")
    .attr("text-anchor","middle").attr("x",0).attr("y",-13).attr("dy",0).attr("transform","rotate(-90)");
  g.append("line").attr("x1",b.l).attr("x2",b.l).attr("y1",b.t).attr("y2",b.b).attr("stroke","#333").attr("stroke-width",1.3);

  g.append("text").attr("x",(b.l+b.r)/2).attr("y",b.b+30).attr("text-anchor","middle")
    .attr("font-family",sans).attr("font-size",8).attr("fill","#333").text(p.xTitle);
  g.append("text").attr("transform",`translate(${p.yTitleX},${(b.t+b.b)/2}) rotate(-90)`).attr("text-anchor","middle")
    .attr("font-family",sans).attr("font-size",8).attr("fill","#333").text(p.yTitle);

  g.append("g").selectAll("circle").data(p.pts).join("circle")
    .attr("cx",d=>x(d[0])).attr("cy",d=>y(d[1])).attr("r",2.05).attr("fill","#000");

  g.append("path").datum(p.fit).attr("d",d3.line().x(d=>x(d[0])).y(d=>y(d[1])))
    .attr("stroke","#f00").attr("stroke-width",1).attr("fill","none");
});
</script>
</body></html>
